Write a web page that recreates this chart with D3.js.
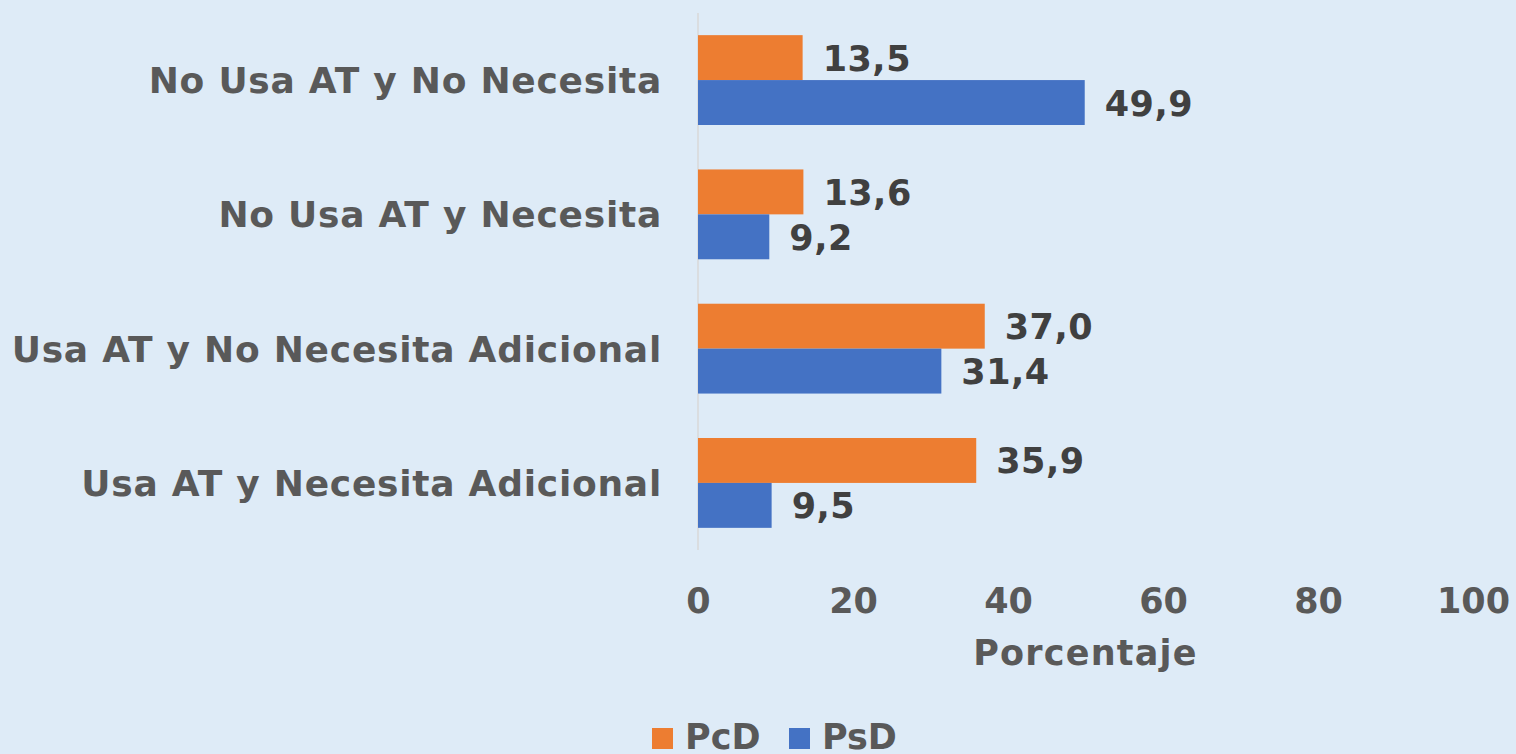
<!DOCTYPE html>
<html>
<head>
<meta charset="utf-8">
<script src="https://cdn.jsdelivr.net/npm/d3@7"></script>
<style>
  html, body { margin: 0; padding: 0; background: #DEEBF7; }
  svg text { font-family: "DejaVu Sans", Verdana, sans-serif; font-weight: bold; }
</style>
</head>
<body>
<div id="chart"></div>
<script>
var categories = ['No Usa AT y No Necesita', 'No Usa AT y Necesita', 'Usa AT y No Necesita Adicional', 'Usa AT y Necesita Adicional'];
var seriesNames = ['PcD', 'PsD'];
var pcdValues = [13.5, 13.6, 37.0, 35.9];
var psdValues = [49.9, 9.2, 31.4, 9.5];
var xTicks = [0, 20, 40, 60, 80, 100];
var colors = ['#ED7D31', '#4472C4'];

var width = 1516, height = 754;
var plotLeft = 698, plotRight = 1473, plotTop = 13, plotBottom = 550;

var rows = categories.map(function(c, i) {
    return { cat: c, vals: [pcdValues[i], psdValues[i]] };
});

var svg = d3.select('#chart').append('svg')
    .attr('width', width).attr('height', height);

svg.append('rect').attr('width', width).attr('height', height).attr('fill', '#DEEBF7');

var x = d3.scaleLinear().domain([0, 100]).range([plotLeft, plotRight]);
var y = d3.scaleBand().domain(categories).range([plotTop, plotBottom])
    .paddingInner(0.331).paddingOuter(0.165);
var ySub = d3.scaleBand().domain(seriesNames).range([0, y.bandwidth()]);

// category axis line
svg.append('line')
    .attr('x1', x(0)).attr('x2', x(0)).attr('y1', plotTop).attr('y2', plotBottom)
    .attr('stroke', '#D9D9D9').attr('stroke-width', 1.5);

// category labels
svg.append('g').selectAll('text').data(categories).enter().append('text')
    .attr('x', 662).attr('y', function(d) { return y(d) + y.bandwidth() / 2; })
    .attr('dy', '0.36em')
    .attr('text-anchor', 'end')
    .attr('font-size', 36).attr('fill', '#595959')
    .style('letter-spacing', '0.75px')
    .text(function(d) { return d; });

// bars
var groups = svg.append('g').selectAll('g').data(rows).enter().append('g')
    .attr('transform', function(d) { return 'translate(0,' + y(d.cat) + ')'; });

groups.selectAll('rect').data(function(d) { return d.vals; }).enter().append('rect')
    .attr('x', x(0))
    .attr('y', function(d, i) { return ySub(seriesNames[i]); })
    .attr('width', function(d) { return x(d) - x(0); })
    .attr('height', ySub.bandwidth())
    .attr('fill', function(d, i) { return colors[i]; });

groups.selectAll('text').data(function(d) { return d.vals; }).enter().append('text')
    .attr('x', function(d) { return x(d) + 20; })
    .attr('y', function(d, i) { return ySub(seriesNames[i]) + ySub.bandwidth() / 2 + 13; })
    .attr('font-size', 35).attr('fill', '#404040')
    .style('letter-spacing', '0.5px')
    .text(function(d) { return d.toFixed(1).replace('.', ','); });

// x axis tick labels
var xAxis = d3.axisBottom(x).tickValues(xTicks).tickSize(0).tickPadding(0);
var gx = svg.append('g').attr('transform', 'translate(0,613)').call(xAxis);
gx.select('.domain').remove();
gx.selectAll('text')
    .attr('y', 0).attr('dy', 0)
    .attr('font-size', 35).attr('fill', '#595959')
    .style('font-family', '"DejaVu Sans", Verdana, sans-serif').style('font-weight', 'bold');

// axis title
svg.append('text')
    .attr('x', (plotLeft + plotRight) / 2).attr('y', 665)
    .attr('text-anchor', 'middle')
    .attr('font-size', 35).attr('fill', '#595959')
    .style('letter-spacing', '1.2px')
    .text('Porcentaje');

// legend
var legendX = [652, 789];
var leg = svg.append('g').selectAll('g').data(seriesNames).enter().append('g')
    .attr('transform', function(d, i) { return 'translate(' + legendX[i] + ',0)'; });
leg.append('rect').attr('x', 0).attr('y', 728).attr('width', 21).attr('height', 21)
    .attr('fill', function(d, i) { return colors[i]; });
leg.append('text').attr('x', 33).attr('y', 749)
    .attr('font-size', 35).attr('fill', '#595959')
    .text(function(d) { return d; });
</script>
</body>
</html>
